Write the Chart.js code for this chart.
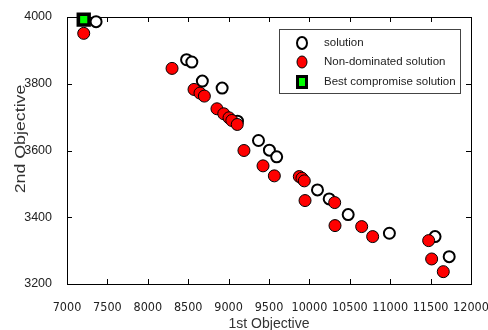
<!DOCTYPE html>
<html>
<head>
<meta charset="utf-8">
<script src="https://cdn.jsdelivr.net/npm/chart.js@4/dist/chart.umd.min.js"></script>
<style>
  body { margin: 0; background: #fff; }
  #wrap { width: 488px; height: 330px; }
</style>
</head>
<body>
<div id="wrap"><canvas id="myChart"></canvas></div>
<script>
// data
const solutionX = [7360, 8480, 8545, 8675, 8920, 9110, 9370, 9505, 9595, 10100, 10245, 10480, 10990, 11555, 11730];
const solutionY = [3986, 3872, 3865, 3808, 3787, 3688, 3630, 3601, 3581, 3482, 3455, 3408, 3352, 3342, 3282];

const nonDomX = [7207, 8300, 8572, 8646, 8700, 8856, 8940, 9005, 9040, 9107, 9190, 9426, 9566, 9875, 9908, 9937, 9946, 10313, 10317, 10647, 10783, 11476, 11513, 11657];
const nonDomY = [3951, 3846, 3783, 3772, 3763, 3725, 3710, 3698, 3690, 3678, 3600, 3554, 3524, 3522, 3517, 3509, 3450, 3444, 3375, 3372, 3342, 3330, 3275, 3237];

const bestX = [7207];
const bestY = [3992];

const xTicks = [7000, 7500, 8000, 8500, 9000, 9500, 10000, 10500, 11000, 11500, 12000];
const yTicks = [3200, 3400, 3600, 3800, 4000];

const xTitle = "1st Objective";
const yTitle = "2nd Objective";

const toPoints = (xs, ys) => xs.map((x, i) => ({ x: x, y: ys[i] }));

const FONT = "'Liberation Sans', Arial, sans-serif";
const NARROW = "'Liberation Sans Narrow', 'Arial Narrow', 'DejaVu Sans Condensed', sans-serif";

// inward ticks + box around the plot, and the stretched y title
const boxTicks = {
  id: "boxTicks",
  beforeDatasetsDraw(chart) {
    const { ctx, chartArea: a, scales } = chart;
    ctx.save();
    ctx.strokeStyle = "#000";
    ctx.lineWidth = 1;
    ctx.beginPath();
    xTicks.forEach((v) => {
      const px = Math.round(scales.x.getPixelForValue(v)) + 0.5;
      ctx.moveTo(px, a.bottom);
      ctx.lineTo(px, a.bottom - 5);
      ctx.moveTo(px, a.top);
      ctx.lineTo(px, a.top + 5);
    });
    yTicks.forEach((v) => {
      const py = Math.round(scales.y.getPixelForValue(v)) + 0.5;
      ctx.moveTo(a.left, py);
      ctx.lineTo(a.left + 5, py);
      ctx.moveTo(a.right, py);
      ctx.lineTo(a.right - 5, py);
    });
    ctx.stroke();
    ctx.strokeRect(Math.round(a.left) + 0.5, Math.round(a.top) + 0.5, Math.round(a.right - a.left), Math.round(a.bottom - a.top));

    // y title, a bit stretched along its length like the source image
    ctx.translate(21, 139);
    ctx.rotate(-Math.PI / 2);
    ctx.scale(1.27, 1);
    ctx.font = "14px " + FONT;
    ctx.fillStyle = "#333";
    ctx.textAlign = "center";
    ctx.textBaseline = "middle";
    ctx.fillText(yTitle, 0, 0);
    ctx.restore();
  },
};

// legend box drawn inside the plot, top right
const boxLegend = {
  id: "boxLegend",
  afterDraw(chart) {
    const { ctx } = chart;
    const left = 279, top = 29, w = 181, h = 64;
    ctx.save();
    ctx.fillStyle = "#fff";
    ctx.fillRect(left, top, w, h);
    ctx.strokeStyle = "#444";
    ctx.lineWidth = 1;
    ctx.strokeRect(left + 0.5, top + 0.5, w, h);
    ctx.font = "11.5px " + FONT;
    ctx.textBaseline = "middle";
    const rows = [43, 62, 82];
    chart.data.datasets.forEach((ds, i) => {
      const y = rows[i];
      const mx = 302;
      ctx.beginPath();
      if (ds.pointStyle === "rect") {
        ctx.fillStyle = "#000";
        ctx.fillRect(mx - 6, y - 7, 12, 14);
        ctx.fillStyle = ds.backgroundColor;
        ctx.fillRect(mx - 3, y - 4, 6, 8);
      } else {
        ctx.ellipse(mx, y, 5, 6, 0, 0, Math.PI * 2);
        ctx.fillStyle = ds.backgroundColor;
        ctx.fill();
        ctx.lineWidth = ds.borderWidth;
        ctx.strokeStyle = "#000";
        ctx.stroke();
      }
      ctx.fillStyle = "#222";
      ctx.fillText(ds.label, 324, y);
    });
    ctx.restore();
  },
};

const ctx = document.getElementById("myChart");

new Chart(ctx, {
  type: "scatter",
  data: {
    datasets: [
      {
        label: "solution",
        data: toPoints(solutionX, solutionY),
        pointStyle: "circle",
        pointRadius: 5.5,
        backgroundColor: "#ffffff",
        borderColor: "#000000",
        borderWidth: 2,
        order: 3,
        clip: false,
      },
      {
        label: "Non-dominated solution",
        data: toPoints(nonDomX, nonDomY),
        pointStyle: "circle",
        pointRadius: 6,
        backgroundColor: "#ff0000",
        borderColor: "#000000",
        borderWidth: 1,
        order: 2,
        clip: false,
      },
      {
        label: "Best compromise solution",
        data: toPoints(bestX, bestY),
        pointStyle: "rect",
        pointRadius: 7.6,
        backgroundColor: "#00ff00",
        borderColor: "#000000",
        borderWidth: 3.6,
        order: 1,
        clip: false,
      },
    ],
  },
  options: {
    responsive: true,
    maintainAspectRatio: false,
    animation: false,
    layout: { padding: { top: 17, right: 17, left: 0, bottom: 0 } },
    plugins: {
      legend: { display: false },
      tooltip: { enabled: false },
    },
    scales: {
      x: {
        type: "linear",
        min: 7000,
        max: 12000,
        afterBuildTicks: (scale) => {
          scale.ticks = xTicks.map((v) => ({ value: v }));
        },
        afterFit: (scale) => {
          scale.height = 46;
          scale.paddingLeft = 0;
          scale.paddingRight = 0;
        },
        grid: { display: false },
        border: { display: false },
        ticks: {
          color: "#222",
          font: { family: NARROW, size: 12.5 },
          padding: 8,
          maxRotation: 0,
          autoSkip: false,
          callback: (v) => String(v),
        },
        title: {
          display: true,
          text: xTitle,
          color: "#333",
          font: { family: FONT, size: 14 },
          padding: { top: 0, bottom: -3 },
        },
      },
      y: {
        type: "linear",
        min: 3200,
        max: 4000,
        afterBuildTicks: (scale) => {
          scale.ticks = yTicks.map((v) => ({ value: v }));
        },
        afterFit: (scale) => {
          scale.width = 67;
          scale.paddingTop = 0;
          scale.paddingBottom = 0;
        },
        grid: { display: false },
        border: { display: false },
        ticks: {
          color: "#222",
          font: { family: FONT, size: 12.5 },
          padding: 7,
          callback: (v) => String(v),
        },
      },
    },
  },
  plugins: [boxTicks, boxLegend],
});
</script>
</body>
</html>
